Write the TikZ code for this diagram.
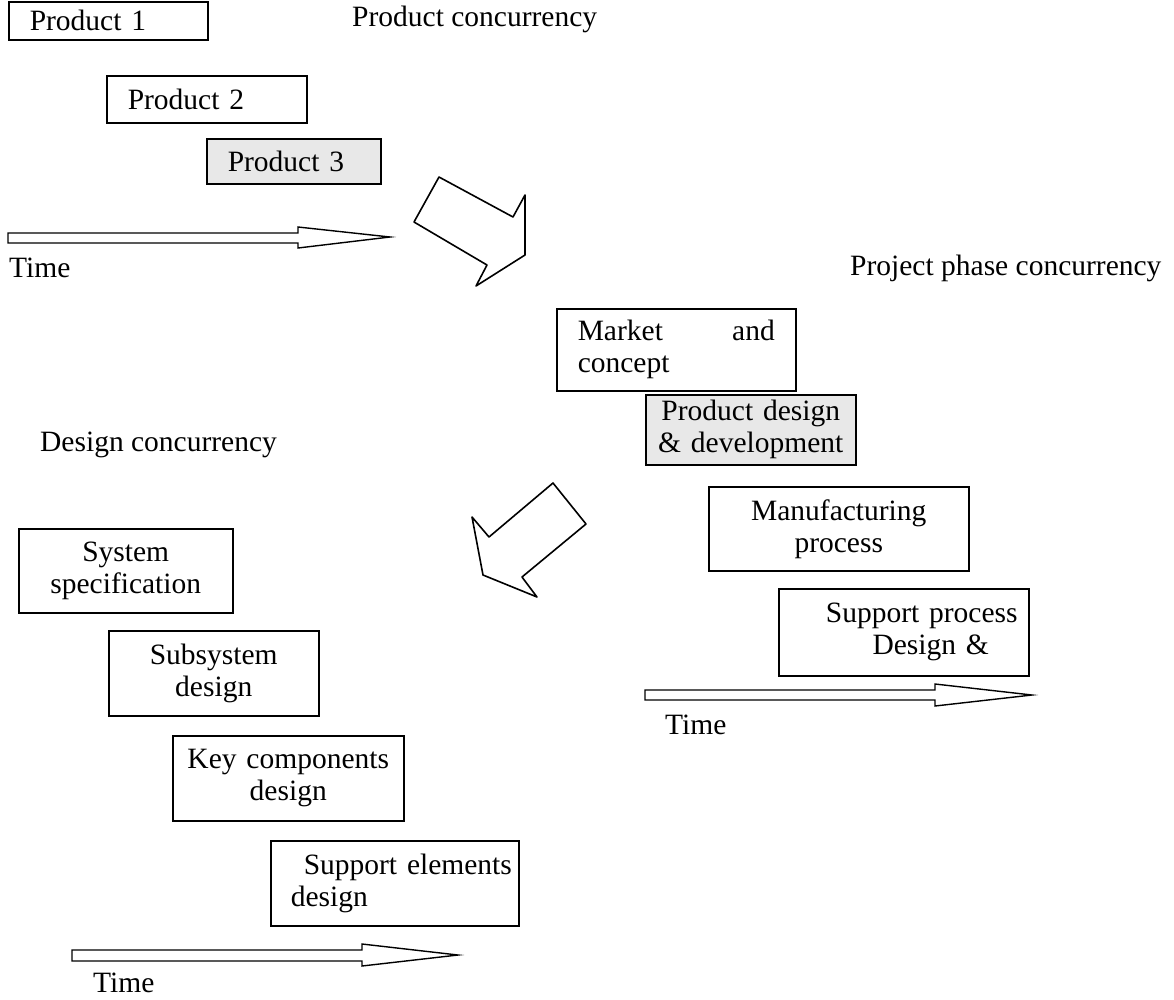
\documentclass[tikz,border=0pt]{standalone}
\usepackage{fontspec}
\setmainfont{Liberation Serif}
\newcommand{\mysize}{\fontsize{29.5}{32}\selectfont}
\begin{document}
\begin{tikzpicture}[x=1pt,y=-1pt,
  box/.style={draw, line width=1.5pt, inner ysep=0pt, anchor=north west, font=\mysize},
  lbox/.style={box, align=left, inner xsep=21pt},
  cbox/.style={box, align=center, inner xsep=0pt},
  shade/.style={fill=gray!18},
  lbl/.style={anchor=west, inner sep=0pt, font=\mysize},
  bigarrow/.style={draw, line width=1.6pt, line join=round},
  timearrow/.style={draw, line width=1.4pt, line join=miter}]
\useasboundingbox (0,0) rectangle (1174,999);

% Product concurrency
\node[lbox, minimum width=199pt, minimum height=38pt, text width=157pt] (p1) at (8,1) {Product 1};
\node[lbox, minimum width=200pt, minimum height=47pt, text width=158pt] (p2) at (106,75) {Product 2};
\node[lbox, shade, minimum width=174pt, minimum height=45pt, text width=132pt] (p3) at (206,138) {Product 3};
\node[lbl] (pc) at (352,19) {Product concurrency};
\draw[timearrow] (8,233) -- (298,233) -- (298,227) -- (390,237) -- (298,248) -- (298,243) -- (8,243) -- cycle;
\node[lbl] (t1) at (9,268) {Time};

% big arrow 1
\draw[bigarrow] (439,177) -- (513,217) -- (525,195) -- (525,255) -- (476,286) -- (487,265) -- (414,222) -- cycle;

% Project phase concurrency
\node[lbl] (ppc) at (850,268) {Project phase concurrency};
\node[lbox, minimum width=239pt, minimum height=82pt, text width=197pt] (mc) at (556,308)
  {\makebox[197pt][s]{Market\hfill and}\\concept};
\node[cbox, shade, minimum width=210pt, minimum height=70pt, text width=210pt] (pd) at (645,394)
  {Product design\\\& development};
\node[cbox, minimum width=260pt, minimum height=84pt, text width=260pt] (mp) at (708,486)
  {Manufacturing\\process};
\node[cbox, minimum width=250pt, minimum height=87pt, text width=250pt] (sp) at (778,588)
  {\hspace*{36pt}Support process\\\hspace*{54pt}Design \&};
\draw[timearrow] (645,690) -- (935,690) -- (935,684) -- (1032,695) -- (935,706) -- (935,700) -- (645,700) -- cycle;
\node[lbl] (t2) at (665,725) {Time};

% big arrow 2
\draw[bigarrow] (553,483) -- (586,524) -- (522,577) -- (537,597) -- (483,575) -- (472,517) -- (489,537) -- cycle;

% Design concurrency
\node[lbl] (dc) at (40,445) {Design concurrency};
\node[cbox, minimum width=214pt, minimum height=84pt, text width=214pt] (ss) at (18,528)
  {System\\specification};
\node[cbox, minimum width=210pt, minimum height=85pt, text width=210pt] (sd) at (108,630)
  {Subsystem\\design};
\node[cbox, minimum width=231pt, minimum height=85pt, text width=231pt] (kc) at (172,735)
  {Key components\\design};
\node[box, align=left, inner xsep=0pt, minimum width=248pt, minimum height=85pt, text width=248pt] (se) at (270,840)
  {\hspace*{33pt}Support elements\\\hspace*{20pt}design};
\draw[timearrow] (72,950) -- (362,950) -- (362,944) -- (458,955) -- (362,966) -- (362,961) -- (72,961) -- cycle;
\node[lbl] (t3) at (93,983) {Time};
\end{tikzpicture}
\end{document}
